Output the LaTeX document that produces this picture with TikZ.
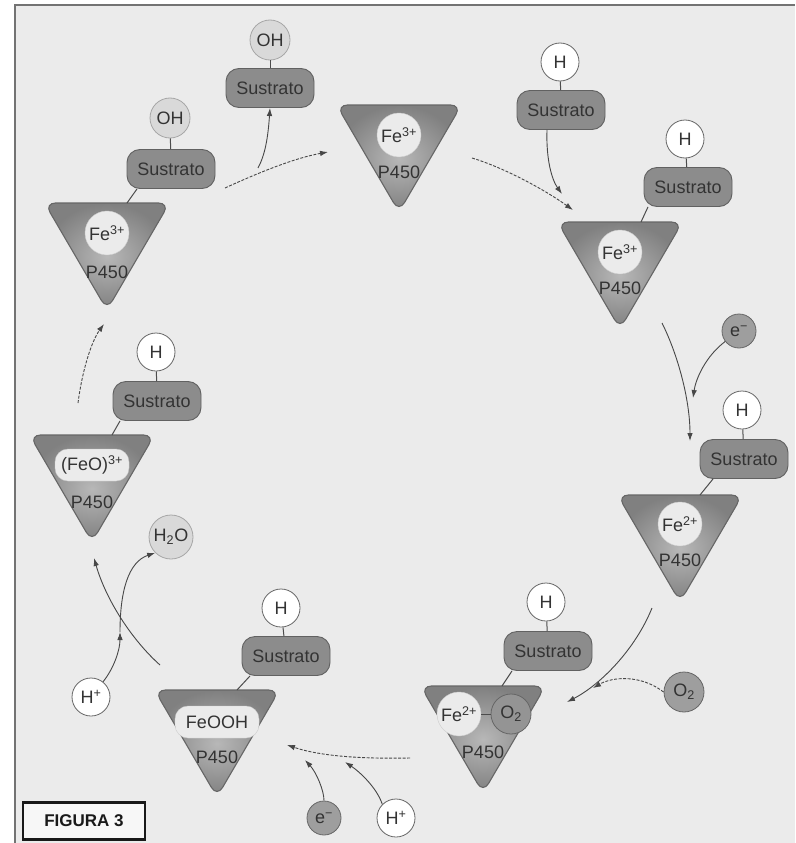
\documentclass[tikz,border=0pt]{standalone}
\usepackage{fontspec}
\setmainfont{Liberation Sans}
\usetikzlibrary{arrows.meta}
\newcommand\fs{\fontsize{18}{18}\selectfont}
\newcommand\ptri[3]{\path[tri] ({#2-62.5},#3) -- ({#2+62.5},#3) -- (#2,{#3+107}) -- cycle; \coordinate (#1) at (#2,#3);}
\begin{document}
\begin{tikzpicture}[x=1pt,y=-1pt,
 every node/.style={font=\fs, text=black!80},
 tri/.style={draw=black!60, line width=1.1pt, rounded corners=11pt, inner color=black!28, outer color=black!50},
 sub/.style={draw=black!62, line width=0.9pt, fill=black!45, rounded corners=13pt, minimum width=88pt, minimum height=39pt, inner sep=0pt},
 hat/.style={circle, draw=black!60, line width=0.8pt, fill=white, minimum size=38pt, inner sep=0pt},
 gat/.style={circle, draw=black!60, line width=0.8pt, fill=black!38, minimum size=34pt, inner sep=0pt},
 lat/.style={circle, draw=black!35, line width=0.8pt, fill=black!15, minimum size=40pt, inner sep=0pt},
 fec/.style={circle, fill=black!8, draw=black!20, minimum size=44pt, inner sep=0pt},
 fer/.style={rectangle, rounded corners=13pt, fill=black!8, draw=black!20, minimum height=32pt, inner sep=2pt},
 lbl/.style={inner sep=0pt},
 stick/.style={draw=black!70, line width=1pt},
 arr/.style={draw=black!72, line width=0.9pt, -{Latex[length=8pt,width=5.5pt]}},
 dsh/.style={dash pattern=on 3pt off 1.5pt},
]
\useasboundingbox (0,0) rectangle (795,843);
\fill[white] (0,0) rectangle (795,843);
\fill[black!8] (15,5) rectangle (795,843);
\draw[black!55, line width=2pt] (15,843) -- (15,5) -- (795,5);

% ---------- triangles ----------
\ptri{t1}{399}{105}
\ptri{t3}{620}{222}
\ptri{t4}{680}{495}
\ptri{t5}{483}{686}
\ptri{t6}{217}{690}
\ptri{t7}{92}{435}
\ptri{t8}{107}{203}

% ---------- state 1 (top) ----------
\node[fec] (fe1) at (399,135) {Fe\textsuperscript{3+}};
\node[lbl] (p1) at (399,172) {P450};

% ---------- free substrate with H ----------
\node[sub] (s2) at (561,110) {Sustrato};
\node[hat] (h2) at (560,62) {H};
\draw[stick] (h2) -- (s2);

% ---------- state 3 ----------
\node[fec] (fe3) at (620,252) {Fe\textsuperscript{3+}};
\node[lbl] (p3) at (620,288) {P450};
\node[sub] (s3) at (688,187) {Sustrato};
\node[hat] (h3) at (685,139) {H};
\draw[stick] (h3) -- (s3);
\coordinate (c3) at (641,222);
\draw[stick] ([xshift=-40pt]s3.south) -- (c3);

% ---------- e- right ----------
\node[gat] (e1) at (739,331) {e\textsuperscript{−}};

% ---------- state 4 ----------
\node[fec] (fe4) at (680,524) {Fe\textsuperscript{2+}};
\node[lbl] (p4) at (680,560) {P450};
\node[sub] (s4) at (744,459) {Sustrato};
\node[hat] (h4) at (742,410) {H};
\draw[stick] (h4) -- (s4);
\coordinate (c4) at (700,495);
\draw[stick] ([xshift=-31pt]s4.south) -- (c4);

% ---------- O2 free ----------
\node[gat, minimum size=40pt] (o2) at (684,692) {O\textsubscript{2}};

% ---------- state 5 ----------
\node[fec] (fe5) at (459,714) {Fe\textsuperscript{2+}};
\node[gat, minimum size=40pt, fill=black!42] (o5) at (511,714) {O\textsubscript{2}};
\draw[stick] (fe5) -- (o5);
\node[lbl] (p5) at (483,752) {P450};
\node[sub] (s5) at (548,651) {Sustrato};
\node[hat] (h5) at (546,602) {H};
\draw[stick] (h5) -- (s5);
\coordinate (c5) at (502,686);
\draw[stick] ([xshift=-36pt]s5.south) -- (c5);

% ---------- bottom e- and H+ ----------
\node[gat] (e2) at (324,818) {e\textsuperscript{−}};
\node[hat] (hp2) at (396,818) {H\textsuperscript{+}};

% ---------- state 6 ----------
\node[fer, minimum width=84pt] (fe6) at (217,722) {FeOOH};
\node[lbl] (p6) at (217,757) {P450};
\node[sub] (s6) at (286,656) {Sustrato};
\node[hat] (h6) at (281,608) {H};
\draw[stick] (h6) -- (s6);
\coordinate (c6) at (237,690);
\draw[stick] ([xshift=-36pt]s6.south) -- (c6);

% ---------- H+ left and H2O ----------
\node[hat] (hp1) at (91,697) {H\textsuperscript{+}};
\node[lat, minimum size=44pt] (w) at (171,537) {H\textsubscript{2}O};

% ---------- state 7 ----------
\node[fer, minimum width=74pt] (fe7) at (92,465) {(FeO)\textsuperscript{3+}};
\node[lbl] (p7) at (92,502) {P450};
\node[sub] (s7) at (157,401) {Sustrato};
\node[hat] (h7) at (156,352) {H};
\draw[stick] (h7) -- (s7);
\coordinate (c7) at (112,435);
\draw[stick] ([xshift=-37pt]s7.south) -- (c7);

% ---------- state 8 ----------
\node[fec] (fe8) at (107,233) {Fe\textsuperscript{3+}};
\node[lbl] (p8) at (107,272) {P450};
\node[sub] (s8) at (171,169) {Sustrato};
\node[lat] (oh8) at (170,118) {OH};
\draw[stick] (oh8) -- (s8);
\coordinate (c8) at (127,203);
\draw[stick] ([xshift=-34pt]s8.south) -- (c8);

% ---------- released product ----------
\node[sub] (s9) at (270,88) {Sustrato};
\node[lat] (oh9) at (270,40) {OH};
\draw[stick] (oh9) -- (s9);

% ---------- arrows ----------
\coordinate (a1s) at (225,188);
\coordinate (a1e) at (328,152);
\coordinate (a1b) at (258,168);
\draw[arr,dsh] (a1s) .. controls (260,172) and (295,158) .. (a1e);
\draw[arr] (a1b) .. controls (265,155) and (268,138) .. (s9.south);

\coordinate (a2s) at (472,158);
\coordinate (a2e) at (573,210);
\coordinate (a2b) at (562,194);
\draw[arr,dsh] (a2s) .. controls (505,168) and (545,190) .. (a2e);
\draw[arr] (s2.south) ++(-14pt,0) .. controls (546,160) and (552,180) .. (a2b);

\coordinate (a3s) at (662,323);
\coordinate (a3e) at (690,441);
\coordinate (a3b) at (693,398);
\draw[arr] (a3s) .. controls (678,355) and (690,400) .. (a3e);
\draw[arr] (e1) .. controls (706,356) and (696,378) .. (a3b);

\coordinate (a4s) at (652,608);
\coordinate (a4e) at (567,702);
\coordinate (a4b) at (593,688);
\draw[arr] (a4s) .. controls (635,650) and (600,685) .. (a4e);
\draw[arr,dsh] (o2.west) .. controls (640,674) and (612,677) .. (a4b);

\coordinate (a5s) at (410,758);
\coordinate (a5e) at (287,745);
\coordinate (a5b) at (305,760);
\coordinate (a5c) at (345,762);
\draw[arr,dsh] (a5s) .. controls (360,759) and (320,756) .. (a5e);
\draw[arr] (e2.north) .. controls (324,790) and (316,772) .. (a5b);
\draw[arr] (hp2.north west) .. controls (377,788) and (360,772) .. (a5c);

\coordinate (a6s) at (160,665);
\coordinate (a6e) at (94,558);
\coordinate (a6m) at (120,632);
\draw[arr] (a6s) .. controls (132,640) and (106,600) .. (a6e);
\draw[arr] (hp1) .. controls (114,668) and (120,650) .. (a6m);
\draw[arr] (a6m) .. controls (120,592) and (128,562) .. (w.south west);

\coordinate (a7s) at (78,403);
\coordinate (a7e) at (104,324);
\draw[arr,dsh] (a7s) .. controls (82,372) and (91,342) .. (a7e);

% ---------- label ----------
\node[draw=black!90, line width=2.5pt, fill=black!3, minimum width=122pt, minimum height=37pt, inner sep=0pt, font=\fontsize{17}{17}\selectfont\bfseries, text=black!90] (fig) at (84,821) {FIGURA 3};
\end{tikzpicture}
\end{document}
